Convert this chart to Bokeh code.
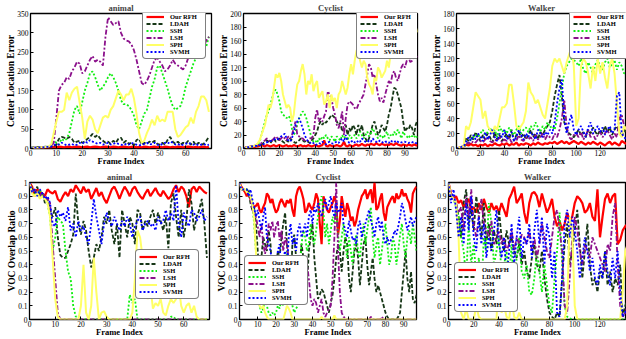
from bokeh.plotting import figure
from bokeh.layouts import column, row
from bokeh.models import Range1d, FixedTicker, Legend
from bokeh.embed import file_html
from bokeh.resources import INLINE

FONT = "Liberation Serif"
names = ["Our RFH", "LDAH", "SSH", "LSH", "SPH", "SVMH"]
colors = ["#ff0000", "#163616", "#11ee11", "#8b108b", "#ffff66", "#0000ff"]
dashes = ["solid", "4 2", "2 2", "5 2 2 2", "solid", "2 2"]
widths = [2.2, 1.8, 1.8, 1.8, 2, 1.8]

# ---------------- animal (frames 0..69) ----------------
anim_frames = list(range(70))
anim_cle_rfh = [0,1,2,2,3,2,3,2,3,4, 3,5,4,3,4,5,3,4,5,4, 3,4,5,3,4,5,4,3,4,5, 4,3,5,4,3,4,5,4,3,4,
                5,3,4,3,5,4,3,4,5,3, 4,3,5,4,3,4,3,5,4,3, 4,5,4,3,4,3,4,5,3,4]
anim_cle_ldah = [2,3,3,4,3,4,5,4,5,6, 10,25,30,28,25,30,25,15,18,20, 15,18,25,30,38,30,35,25,20,15,
                 18,12,20,15,25,28,15,20,12,15, 8,22,25,10,15,12,18,15,20,12, 10,15,10,22,30,18,12,18,10,15,
                 12,20,10,18,8,15,10,12,20,30]
anim_cle_ssh = [0,1,2,2,3,3,4,5,8,20, 15,10,25,20,25,40,70,100,110,90, 120,150,170,195,200,185,165,150,160,170,
                185,195,185,170,150,125,115,115,110,100, 85,60,50,70,90,100,130,160,180,210,
                215,195,175,155,130,110,100,105,110,130, 160,180,200,220,235,245,250,255,265,290]
anim_cle_lsh = [0,1,2,2,3,3,4,5,6,15, 80,150,165,170,185,180,200,210,225,220, 195,200,215,230,240,225,230,225,215,290,
                340,330,320,325,330,300,285,280,278,270, 255,230,200,170,165,175,190,210,230,235,
                225,215,200,205,215,230,220,215,210,205, 215,235,250,240,250,255,260,265,280,290]
anim_cle_sph = [0,1,2,2,3,3,4,5,10,40, 70,95,95,100,145,125,145,155,160,120, 80,25,70,85,75,50,40,60,80,85,
                80,100,110,130,150,140,125,140,140,155, 130,90,40,15,20,40,55,75,60,85,
                70,75,70,95,95,95,50,30,35,45, 55,60,80,65,95,110,135,135,125,95]
anim_cle_svmh = [0,1,2,2,3,3,4,4,5,8, 12,10,15,12,8,10,12,8,10,15, 12,18,15,22,18,15,12,15,10,12,
                 15,10,12,15,12,10,8,12,10,15, 12,10,8,10,12,15,10,12,15,10, 8,12,15,12,18,15,10,12,8,10,
                 12,15,12,10,12,8,10,12,8,10]

anim_voc_rfh = [1.0,0.97,0.9,0.95,0.93,0.92,0.9,0.95,0.93,0.92, 0.94,0.88,0.86,0.9,0.93,0.9,0.95,0.93,0.98,0.95,
                0.92,0.97,0.93,0.95,0.88,0.92,0.96,0.9,0.93,0.88, 0.85,0.9,0.95,0.97,0.93,0.88,0.93,0.97,0.94,0.9,
                0.95,0.97,0.93,0.9,0.88,0.92,0.95,0.9,0.93,0.96, 0.92,0.9,0.94,0.91,0.88,0.9,0.95,0.98,0.93,0.97,
                0.95,0.9,0.82,0.95,0.97,0.93,0.97,0.95,0.93,0.92]
anim_voc_ldah = [1.0,0.95,0.92,0.97,0.9,0.93,0.85,0.88,0.8,0.75, 0.82,0.6,0.47,0.45,0.45,0.5,0.55,0.62,0.92,0.7,
                 0.62,0.72,0.65,0.5,0.38,0.45,0.55,0.5,0.6,0.75, 0.7,0.8,0.65,0.55,0.7,0.45,0.8,0.7,0.6,0.75,
                 0.7,0.55,0.8,0.78,0.65,0.72,0.68,0.75,0.8,0.7, 0.78,0.72,0.65,0.75,0.52,0.85,0.92,0.75,0.6,0.8,
                 0.6,0.72,0.95,0.85,0.65,0.75,0.8,0.88,0.7,0.45]
anim_voc_ssh = [1.0,0.95,0.92,0.9,0.95,0.9,0.88,0.85,0.75,0.5, 0.6,0.75,0.72,0.7,0.5,0.35,0.3,0.1,0.02,0.03,
                0,0,0,0,0,0,0,0,0,0, 0,0,0,0,0,0,0,0,0,0.18,
                0.12,0.15,0,0,0,0,0,0,0,0, 0,0,0,0,0,0.02,0.02,0,0,0, 0,0,0,0,0,0,0,0,0,0]
anim_voc_lsh = [1.0,0.93,0.95,0.92,0.9,0.93,0.9,0.88,0.85,0.55, 0.3,0.05,0,0,0,0,0,0,0,0,
                0,0,0,0,0,0,0,0,0,0, 0,0,0,0,0,0,0,0,0,0,
                0,0,0,0,0,0,0,0,0,0, 0,0,0,0,0,0,0,0,0,0, 0,0,0,0,0,0,0,0,0,0]
anim_voc_sph = [1.0,0.92,0.9,0.93,0.88,0.9,0.88,0.85,0.75,0.45, 0.15,0.02,0,0,0,0,0,0,0,0,
                0.1,0.4,0.05,0,0.1,0.45,0.2,0,0.05,0.06, 0.02,0,0,0,0,0,0,0,0,0,
                0.05,0.3,0.65,0.6,0.45,0.2,0.15,0.25,0.08,0.12, 0.1,0.15,0.05,0.03,0.1,0.15,0.12,0.15,0.25,0.1,
                0.05,0.1,0.12,0.05,0.1,0.02,0,0,0,0]
anim_voc_svmh = [1.0,0.93,0.95,0.9,0.95,0.92,0.88,0.9,0.85,0.7, 0.68,0.8,0.75,0.78,0.72,0.82,0.65,0.7,0.6,0.72,
                 0.65,0.68,0.6,0.55,0.7,0.88,0.75,0.65,0.55,0.7, 0.78,0.72,0.68,0.75,0.7,0.65,0.72,0.68,0.75,0.7,
                 0.6,0.68,0.72,0.75,0.65,0.7,0.72,0.68,0.7,0.65, 0.75,0.7,0.72,0.8,0.72,0.78,0.72,0.98,0.7,0.6,
                 0.78,0.72,0.68,0.8,0.78,0.72,0.75,0.8,0.72,0.75]

# ---------------- Cyclist (frames 0..97) ----------------
cyc_frames = list(range(98))
cyc_cle_rfh = [0,1,2,2,3,3,2,3,3,4, 5,4,3,5,4,3,4,5,3,4, 5,4,3,4,5,3,4,3,5,4, 3,4,5,3,4,3,5,4,3,4,
               5,4,3,4,5,12,4,3,5,4, 3,4,5,4,3,5,10,4,3,5, 4,3,5,6,4,5,7,5,4,6, 5,7,6,5,8,6,5,7,6,5,
               6,5,7,6,5,8,6,5,4,6, 5,4,6,5,4,6,5,4]
cyc_cle_ldah = [0,1,2,2,3,3,4,4,5,5, 6,8,10,12,10,8,12,15,10,12, 15,12,10,8,12,10,15,12,10,8,
                10,12,15,12,10,12,10,8,12,15, 20,25,35,40,35,40,38,42,45,50, 48,45,40,35,38,25,30,35,20,30,
                25,35,30,20,35,25,35,20,15,10, 15,25,35,40,30,20,25,35,30,25, 35,50,60,75,90,88,80,70,60,40,
                25,30,28,35,30,20,35,42]
cyc_cle_ssh = [0,1,2,2,3,3,4,4,5,10, 20,30,40,50,55,65,75,85,87,80, 70,55,50,48,45,48,45,30,20,25,
               35,45,50,55,52,45,35,25,15,10, 12,8,15,12,18,15,20,15,12,18, 15,10,18,15,12,20,15,18,12,20,
               15,18,20,15,18,25,20,15,20,25, 18,22,30,25,20,15,18,20,15,20, 25,15,20,18,25,20,28,22,15,25,
               20,18,15,20,18,20,15,18]
cyc_cle_lsh = [0,1,2,3,3,4,4,5,5,6, 8,10,12,15,12,10,12,15,18,15, 12,15,18,15,12,18,15,20,30,40,
               20,18,15,15,12,10,12,15,15,20, 45,58,40,45,40,48,55,85,80,75, 60,50,35,30,40,55,20,45,65,70,
               68,65,60,58,65,70,75,80,95,110, 125,120,105,110,95,80,70,75,68,80, 90,100,95,110,115,105,100,110,120,125,
               120,130,135,128,130,135,138,135]
cyc_cle_sph = [0,1,2,2,3,3,4,5,8,12, 20,28,35,50,65,60,70,90,110,105, 112,100,80,70,60,65,60,40,50,75,
               95,100,115,125,110,80,100,95,110,85, 95,100,75,80,85,65,70,80,60,80, 70,75,60,80,85,100,90,80,90,110,
               125,110,130,145,150,130,120,130,125,105, 95,90,80,105,100,120,115,105,110,115, 130,120,140,150,160,150,170,160,175,180,
               170,180,175,170,180,175,180,172]
cyc_cle_svmh = [0,1,2,2,3,3,3,4,4,5, 5,6,8,9,10,11,12,13,15,14, 15,18,20,22,15,12,10,15,25,35,
                40,45,38,30,20,15,10,8,10,8, 5,6,8,7,10,8,6,9,10,8, 7,9,10,8,12,15,10,20,12,8,
                10,12,9,8,12,10,15,12,10,9, 12,10,15,12,10,9,12,10,8,10, 10,8,12,10,9,12,10,8,9,10,
                10,9,8,10,9,10,8,8]

cyc_voc_rfh = [1.0,0.97,0.95,0.93,0.9,0.92,0.88,0.85,0.82,0.83, 0.85,0.8,0.78,0.82,0.85,0.92,0.9,0.85,0.88,0.82,
               0.78,0.8,0.85,0.88,0.85,0.82,0.87,0.85,0.88,0.8, 0.75,0.9,0.95,0.97,0.93,0.88,0.78,0.8,0.85,0.82,
               0.8,0.85,0.92,0.88,0.7,0.55,0.9,0.85,0.8,0.78, 0.82,0.85,0.9,0.85,0.62,0.72,0.9,0.82,0.75,0.85,
               0.8,0.72,0.75,0.68,0.72,0.8,0.85,0.9,0.92,0.95, 0.88,0.92,0.95,0.85,1.0,0.8,0.82,0.88,0.92,0.78,
               0.72,0.82,0.85,0.88,0.9,0.85,0.92,0.88,0.9,0.95, 0.9,0.92,0.88,0.85,0.78,0.92,0.95,0.97]
cyc_voc_ldah = [1.0,0.95,0.95,0.95,0.95,0.93,0.85,0.8,0.82,0.7, 0.5,0.3,0.45,0.6,0.55,0.5,0.65,0.55,0.3,0.2,
                0.35,0.5,0.45,0.6,0.7,0.78,0.55,0.4,0.25,0.55, 0.62,0.45,0.3,0.4,0.55,0.45,0.35,0.25,0.5,0.6,
                0.7,0.45,0.3,0.15,0.18,0.22,0.2,0.15,0.1,0.05, 0.12,0.18,0.3,0.45,0.55,0.5,0.35,0.5,0.6,0.55,
                0.3,0.2,0.35,0.5,0.55,0.45,0.25,0.4,0.55,0.6, 0.4,0.25,0.35,0.45,0.3,0.2,0.25,0.2,0.15,0.1,
                0.05,0.02,0,0,0,0,0,0.02,0.05,0.2, 0.35,0.5,0.3,0.2,0.35,0.15,0.12,0.18]
cyc_voc_ssh = [1.0,0.95,0.95,0.95,0.95,0.93,0.9,0.85,0.7,0.5, 0.25,0.1,0.05,0.08,0.15,0.1,0.05,0.03,0.05,0.03,
               0.05,0.1,0.08,0.15,0.1,0.3,0.5,0.35,0.2,0.1, 0.05,0.08,0.1,0.35,0.55,0.65,0.6,0.5,0.55,0.7,
               0.6,0.55,0.65,0.75,0.85,0.9,0.78,0.6,0.7,0.55, 0.65,0.75,0.7,0.8,0.62,0.5,0.6,0.7,0.55,0.45,
               0.6,0.5,0.4,0.55,0.62,0.5,0.45,0.6,0.7,0.55, 0.65,0.75,0.82,0.6,0.45,0.55,0.6,0.4,0.5,0.62,
               0.7,0.55,0.4,0.45,0.6,0.55,0.4,0.5,0.62,0.7, 0.55,0.45,0.6,0.65,0.55,0.7,0.6,0.5]
cyc_voc_lsh = [1.0,0.95,0.95,0.95,0.93,0.92,0.88,0.8,0.78,0.75, 0.68,0.6,0.7,0.55,0.48,0.55,0.7,0.65,0.72,0.6,
               0.68,0.72,0.58,0.65,0.5,0.6,0.55,0.4,0.45,0.3, 0.35,0.25,0.3,0.2,0.15,0.22,0.3,0.4,0.3,0.15,
               0.1,0.15,0.12,0.05,0.1,0.15,0.05,0.02,0.05,0.08, 0.1,0.3,0.6,1.0,0.5,0.2,0.05,0.02,0.01,0,
               0,0,0,0,0,0,0,0,0,0, 0,0,0.02,0,0,0,0,0,0.02,0,
               0,0,0,0,0,0,0,0,0,0, 0,0,0,0,0,0,0,0]
cyc_voc_sph = [1.0,0.95,0.95,0.95,0.93,0.92,0.9,0.85,0.75,0.5, 0.2,0.1,0.08,0.1,0.05,0.02,0,0,0,0,
               0,0,0,0,0,0.05,0.1,0.08,0.05,0, 0,0,0,0,0,0,0,0,0,0,
               0,0,0,0,0,0.02,0,0,0,0, 0,0,0.03,0,0,0,0,0,0,0,
               0,0,0,0,0,0,0,0,0,0, 0,0,0,0,0,0,0,0,0,0,
               0,0,0,0,0,0,0,0,0,0, 0,0,0,0,0,0,0,0]
cyc_voc_svmh = [1.0,0.95,0.95,0.95,0.95,0.9,0.95,0.88,0.82,0.75, 0.8,0.72,0.65,0.75,0.82,0.6,0.55,0.5,0.4,0.45,
                0.35,0.5,0.55,0.3,0.45,0.5,0.38,0.6,0.7,0.55, 0.6,0.5,0.65,0.7,0.6,0.65,0.7,0.6,0.75,0.8,
                0.7,0.82,0.78,0.85,0.8,0.75,0.82,0.88,0.8,0.85, 0.9,0.8,0.75,0.85,0.78,0.8,0.85,0.7,0.65,0.6,
                0.72,0.65,0.58,0.6,0.55,0.68,0.72,0.6,0.65,0.7, 0.75,0.8,0.72,0.68,0.6,0.7,0.75,0.65,0.72,0.6,
                0.55,0.6,0.55,0.58,0.6,0.65,0.62,0.68,0.75,0.85, 0.8,0.72,0.65,0.7,0.75,0.68,0.72,0.75]

# ---------------- Walker (frames 0..142, every 2nd frame) ----------------
walk_frames = list(range(0, 143, 2))
walk_cle_rfh = [0,1,2,3,5,4,6,4,5,3, 5,4,6,3,5,4,7,5,4,6, 5,7,4,6,5,8,4,6,5,7, 6,4,7,5,8,6,5,7,6,8,
                7,9,6,8,10,7,9,6,8,10, 8,6,9,7,5,8,6,9,7,5, 8,6,4,7,9,5,8,6,4,10, 8,6]
walk_cle_ldah = [0,1,2,3,15,10,18,12,22,15, 10,18,12,20,15,8,22,12,18,10, 15,20,12,25,10,18,22,15,20,12,
                 18,25,15,20,12,22,18,25,30,35, 50,70,85,98,70,35,25,20,18,15, 20,25,18,22,15,25,20,28,22,18,
                 25,20,30,22,28,18,25,30,22,15, 25,20]
walk_cle_ssh = [0,1,2,3,5,8,12,15,18,15, 20,25,18,22,28,20,25,15,30,22, 25,20,28,22,18,25,30,20,25,28,
                22,30,25,35,28,22,30,25,35,28, 30,25,40,60,80,100,110,115,120,118, 115,110,120,105,100,115,108,100,112,118,
                110,105,115,120,108,112,118,105,115,110, 100,102]
walk_cle_lsh = [0,1,2,3,5,8,6,10,8,12, 10,8,12,15,10,8,12,10,15,8, 12,10,15,8,12,10,18,12,10,15,
                12,15,10,18,12,15,20,12,18,15, 12,20,15,25,40,65,30,15,12,18, 20,15,22,12,18,25,15,20,12,18,
                22,15,20,25,18,12,20,15,40,45, 30,25]
walk_cle_sph = [0,1,2,3,30,25,35,55,75,70, 65,40,50,30,25,20,30,25,40,55, 55,60,85,85,60,30,25,30,35,50,
                88,75,70,60,65,55,45,40,60,80, 110,120,115,120,110,100,115,125,135,110, 30,40,110,120,115,100,80,110,90,120,
                100,115,95,80,110,120,100,60,20,15, 30,25]
walk_cle_svmh = [0,1,2,3,8,15,10,18,12,20, 15,10,22,12,18,25,15,10,20,15, 25,12,18,22,10,15,25,18,12,20,
                 15,22,18,12,25,20,15,22,18,25, 20,35,60,80,92,40,20,35,45,25, 18,25,30,22,15,28,35,20,25,30,
                 22,28,18,25,30,20,25,70,75,20, 15,12]

walk_voc_rfh = [1.0,0.92,0.88,0.9,0.85,0.87,0.82,0.85,0.88,0.8, 0.82,0.78,0.85,0.8,0.88,0.82,0.78,0.85,0.8,0.83,
                0.78,0.85,0.8,0.75,0.88,0.92,0.97,0.85,0.88,0.92, 0.78,0.7,0.85,0.92,0.93,0.9,0.82,0.92,0.85,0.78,
                0.82,0.88,0.75,0.68,0.72,0.65,0.7,0.78,0.72,0.75, 0.85,0.9,0.88,0.85,0.78,0.8,0.85,0.75,0.72,0.95,
                0.6,0.75,0.88,0.92,0.85,0.9,0.92,0.55,0.58,0.65, 0.68,0.7]
walk_voc_ldah = [1.0,0.9,0.88,0.85,0.75,0.6,0.85,0.95,0.7,0.8, 0.65,0.9,0.75,0.6,0.85,0.55,0.7,0.5,0.65,0.55,
                 0.8,0.6,0.5,0.65,0.55,0.6,0.5,0.45,0.55,0.4, 0.5,0.35,0.3,0.45,0.55,0.4,0.35,0.5,0.3,0.15,
                 0.05,0.02,0,0.05,0.02,0.3,0.55,0.7,0.4,0.5, 0.65,0.8,0.55,0.3,0.5,0.7,0.4,0.25,0.3,0.2,
                 0.35,0.3,0.5,0.25,0.35,0.2,0.3,0.25,0.4,0.02, 0.1,0.15]
walk_voc_ssh = [1.0,0.9,0.88,0.82,0.75,0.6,0.5,0.3,0.7,0.4, 0.55,0.3,0.45,0.2,0.6,0.5,0.85,0.7,0.4,0.5,
                0.6,0.35,0.4,0.5,0.3,0.55,0.2,0.45,0.6,0.35, 0.3,0.4,0.2,0.18,0.3,0.5,0.35,0.2,0.4,0.25,
                0.1,0.05,0.3,0.5,0.78,0.4,0.1,0.02,0.01,0, 0,0,0,0,0,0,0,0,0,0,
                0,0,0,0,0,0,0,0,0,0, 0,0]
walk_voc_lsh = [1.0,0.92,0.88,0.85,0.78,0.82,0.65,0.9,0.75,0.95, 0.7,0.6,0.75,0.88,0.7,0.65,0.6,0.72,0.55,0.6,
                0.65,0.55,0.6,0.5,0.55,0.65,0.5,0.6,0.55,0.62, 0.6,0.55,0.65,0.5,0.6,0.45,0.55,0.7,0.6,0.5,
                0.45,0.6,0.75,0.8,0.65,0.5,0.1,0.05,0.3,0.6, 0.75,0.65,0.5,0.4,0.55,0.5,0.45,0.6,0.55,0.5,
                0.45,0.4,0.35,0.55,0.5,0.75,0.85,0.4,0.1,0.02, 0.05,0.1]
walk_voc_sph = [1.0,0.9,0.88,0.85,0.6,0.05,0,0.08,0,0, 0,0.1,0.02,0,0,0,0,0,0,0,
                0.35,0.05,0.1,0.02,0,0.15,0.02,0,0.05,0, 0,0,0,0,0,0,0,0,0,0,
                0,0,0,0,0,0,0,0.1,0.75,0.65, 0.1,0,0,0,0,0,0,0,0,0,
                0,0,0,0,0,0,0,0,0,0.2, 0.5,0.55]
walk_voc_svmh = [1.0,0.85,0.95,0.8,0.6,0.75,0.55,0.85,0.65,0.9, 0.6,0.5,0.75,0.55,0.7,0.45,0.6,0.5,0.65,0.8,
                 0.55,0.45,0.6,0.3,0.5,0.7,0.4,0.6,0.75,0.45, 0.6,0.55,0.7,0.45,0.65,0.8,0.55,0.75,0.4,0.7,
                 0.6,0.3,0.5,0.05,0.02,0.3,0.7,0.8,0.6,0.75, 0.65,0.5,0.3,0.45,0.6,0.5,0.35,0.45,0.3,0.25,
                 0.4,0.3,0.5,0.35,0.25,0.45,0.3,0.5,0.2,0.02, 0.05,0.1]

cle_label = "Center Location Error"
voc_label = "VOC Overlap Ratio"
voc_ticks = [0, 0.1, 0.2, 0.3, 0.4, 0.5, 0.6, 0.7, 0.8, 0.9, 1]


def panel(title, x, series, xmax, ymax, xticks, yticks, ylabel, width, height,
          bl, br, bt, bb, leg_xy, voc=False):
    for s in series:
        assert len(s) == len(x), (title, len(s), len(x))
    p = figure(width=width, height=height, x_range=Range1d(0, xmax), y_range=Range1d(0, ymax),
               output_backend="svg", toolbar_location=None, title=title,
               min_border_left=bl, min_border_right=br, min_border_top=bt, min_border_bottom=bb,
               background_fill_color="white", border_fill_color="white")
    p.title.text_font = FONT
    p.title.text_font_size = "8.5px"
    p.title.text_font_style = "bold"
    p.title.align = "center"
    p.title.standoff = 1
    p.title.offset = 0
    p.outline_line_color = "black"
    p.outline_line_width = 1.3
    p.outline_line_alpha = 1
    p.xgrid.visible = False
    p.ygrid.visible = False
    for ax in (p.xaxis[0], p.yaxis[0]):
        ax.axis_line_color = None
        ax.major_tick_in = 3
        ax.major_tick_out = 0
        ax.major_tick_line_color = "black"
        ax.minor_tick_line_color = None
        ax.major_label_text_font = FONT
        ax.major_label_text_font_size = "7.5px"
        ax.major_label_text_color = "black"
        ax.major_label_standoff = 2
        ax.axis_label_text_font = FONT
        ax.axis_label_text_font_style = "bold"
        ax.axis_label_text_color = "black"
    p.xaxis[0].ticker = FixedTicker(ticks=xticks)
    p.yaxis[0].ticker = FixedTicker(ticks=yticks)
    p.xaxis[0].axis_label = "Frame Index"
    p.xaxis[0].axis_label_text_font_size = "8.5px"
    p.xaxis[0].axis_label_standoff = -3
    p.xaxis[0].major_label_standoff = 1
    p.yaxis[0].axis_label = ylabel
    p.yaxis[0].axis_label_text_font_size = "9.5px"
    p.yaxis[0].axis_label_standoff = -2
    if voc:
        p.yaxis[0].major_label_overrides = {0: "0", 1: "1"}
    for name, yv, c, d, lw in zip(names, series, colors, dashes, widths):
        p.line(x, yv, line_color=c, line_dash=d, line_width=lw, legend_label=name)
    leg = p.legend[0]
    leg.location = leg_xy
    leg.label_text_font = FONT
    leg.label_text_font_size = "6.5px"
    leg.label_text_font_style = "bold"
    leg.label_text_color = "black"
    leg.glyph_width = 18
    leg.glyph_height = 7
    leg.label_height = 7
    leg.label_width = 32
    leg.label_standoff = 6
    leg.spacing = 0
    leg.padding = 3
    leg.margin = 0
    leg.border_line_color = "black"
    leg.border_line_width = 1.3
    leg.background_fill_alpha = 1
    if "border_radius" in Legend.properties():
        leg.border_radius = 4
    return p


pA = panel("animal", anim_frames,
           [anim_cle_rfh, anim_cle_ldah, anim_cle_ssh, anim_cle_lsh, anim_cle_sph, anim_cle_svmh],
           70, 350, [0, 10, 20, 30, 40, 50, 60], [0, 50, 100, 150, 200, 250, 300, 350], cle_label,
           216, 168, 30, 5, 11, 16, (112, 89))
pB = panel("Cyclist", cyc_frames,
           [cyc_cle_rfh, cyc_cle_ldah, cyc_cle_ssh, cyc_cle_lsh, cyc_cle_sph, cyc_cle_svmh],
           97, 200, [0, 10, 20, 30, 40, 50, 60, 70, 80, 90], list(range(0, 201, 20)), cle_label,
           213, 168, 23, 12, 11, 16, (113, 89))
pC = panel("Walker", walk_frames,
           [walk_cle_rfh, walk_cle_ldah, walk_cle_ssh, walk_cle_lsh, walk_cle_sph, walk_cle_svmh],
           142, 180, [0, 20, 40, 60, 80, 100, 120], list(range(0, 181, 20)), cle_label,
           197, 168, 20, 0, 11, 16, (113, 89))
pD = panel("animal", anim_frames,
           [anim_voc_rfh, anim_voc_ldah, anim_voc_ssh, anim_voc_lsh, anim_voc_sph, anim_voc_svmh],
           70, 1, [0, 10, 20, 30, 40, 50, 60], voc_ticks, voc_label,
           214, 171, 29, 5, 14, 16, (106, 20), voc=True)
pE = panel("Cyclist", cyc_frames,
           [cyc_voc_rfh, cyc_voc_ldah, cyc_voc_ssh, cyc_voc_lsh, cyc_voc_sph, cyc_voc_svmh],
           97, 1, [0, 10, 20, 30, 40, 50, 60, 70, 80, 90], voc_ticks, voc_label,
           209, 171, 22, 7, 14, 16, (5, 14), voc=True)
pF = panel("Walker", walk_frames,
           [walk_voc_rfh, walk_voc_ldah, walk_voc_ssh, walk_voc_lsh, walk_voc_sph, walk_voc_svmh],
           141, 1, [0, 20, 40, 60, 80, 100, 120], voc_ticks, voc_label,
           203, 171, 21, 0, 14, 16, (6, 7), voc=True)

layout = column(row(pA, pB, pC, spacing=0), row(pD, pE, pF, spacing=0), spacing=0)
open("out.html", "w").write(file_html(layout, INLINE))
